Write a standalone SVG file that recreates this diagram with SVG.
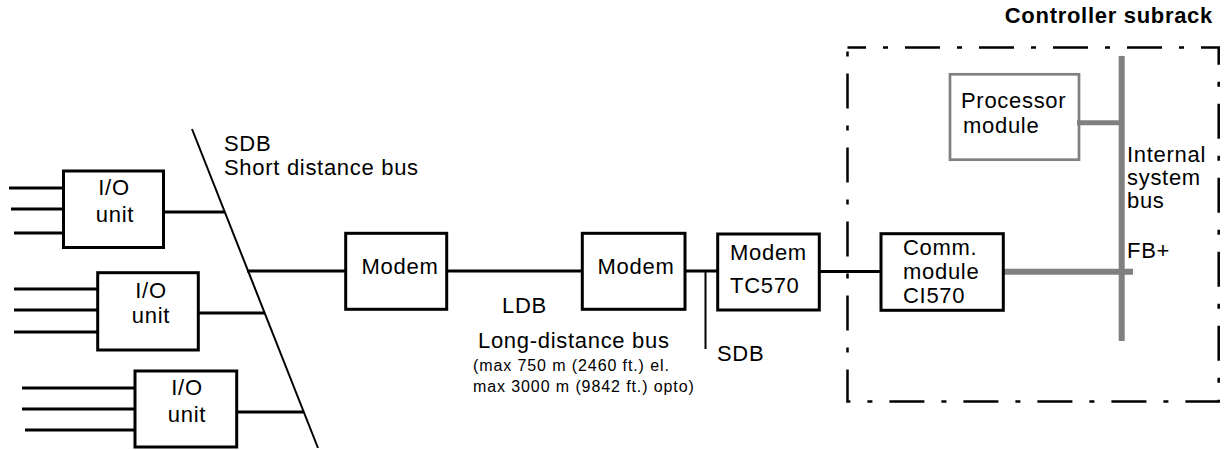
<svg xmlns="http://www.w3.org/2000/svg" width="1225" height="450" viewBox="0 0 1225 450">
<style>
text{font-family:"Liberation Sans",Arial,Helvetica,sans-serif;font-size:22px;letter-spacing:0.7px;fill:#000}
.small{font-size:16px;letter-spacing:0.9px}
.bold{font-weight:bold}
.box{fill:#fff;stroke:#000;stroke-width:3}
.gbox{fill:#fff;stroke:#808080;stroke-width:2.7}
.ln{stroke:#000;stroke-width:3;fill:none}
.thin{stroke:#000;stroke-width:2;fill:none}
.gl{stroke:#808080;fill:none}
.c{text-anchor:middle}
</style>
<g id="subrack">
<path d="M847.5,47.5 H1218.7 V401.5 H847.5 Z" fill="none" stroke="#000" stroke-width="2.5" stroke-dasharray="35 17 5 17" stroke-dashoffset="16.5"/>
<text class="bold" x="1213" y="23" text-anchor="end">Controller subrack</text>
</g>
<g id="processor-module">
<rect class="gbox" x="950" y="74.3" width="129" height="85.4"/>
<text x="961" y="108">Processor</text>
<text x="963" y="133">module</text>
</g>
<g id="connectors">
<path class="ln" d="M9,188H64M11,209H64M14,233H64"/>
<path class="ln" d="M14,289H99M14,310H99M14,332H99"/>
<path class="ln" d="M22,388H136M22,409H136M25,430H136"/>
<path class="ln" d="M164,212H224.5M199,313H264.5M237,412H303.5"/>
<path class="thin" d="M192,129L318,448"/>
<path class="ln" d="M247,271H346M447,271H582M685,271H718M819,271.5H881"/>
<path class="thin" d="M705.5,271V349"/>
<path class="gl" stroke-width="6" d="M1121.7,56V341"/>
<path class="gl" stroke-width="5" d="M1077,122.7H1121.7"/>
<path class="gl" stroke-width="6" d="M1001,271.7H1133"/>
</g>
<g id="io1">
<rect class="box" x="63.5" y="171" width="100" height="76.5"/>
<text class="c" x="114" y="195">I/O</text>
<text class="c" x="115" y="222">unit</text>
</g>
<g id="io2">
<rect class="box" x="97.7" y="272.7" width="100.6" height="77.3"/>
<text class="c" x="151" y="298">I/O</text>
<text class="c" x="151" y="323">unit</text>
</g>
<g id="io3">
<rect class="box" x="135" y="371" width="101.7" height="76"/>
<text class="c" x="187" y="395">I/O</text>
<text class="c" x="187" y="422">unit</text>
</g>
<g id="sdb-label">
<text x="224" y="151">SDB</text>
<text x="224" y="175">Short distance bus</text>
</g>
<g id="modem1">
<rect class="box" x="345.7" y="233.3" width="101" height="76"/>
<text class="c" x="400" y="274">Modem</text>
</g>
<g id="modem2">
<rect class="box" x="582.3" y="233.3" width="102.7" height="76"/>
<text class="c" x="636" y="274">Modem</text>
</g>
<g id="ldb-label">
<text x="502" y="313">LDB</text>
<text x="478" y="348">Long-distance bus</text>
<text class="small" x="473" y="371">(max 750 m (2460 ft.) el.</text>
<text class="small" x="473" y="392">max 3000 m (9842 ft.) opto)</text>
</g>
<g id="sdb2-label">
<text x="717" y="361">SDB</text>
</g>
<g id="modem-tc570">
<rect class="box" x="717.7" y="234" width="101.6" height="76"/>
<text x="730" y="260">Modem</text>
<text x="730" y="293">TC570</text>
</g>
<g id="comm-module">
<rect class="box" x="881" y="233.7" width="122.3" height="76.6"/>
<text x="903" y="255">Comm.</text>
<text x="903" y="279">module</text>
<text x="903" y="303">CI570</text>
</g>
<g id="bus-label">
<text x="1127" y="162">Internal</text>
<text x="1127" y="185">system</text>
<text x="1127" y="208">bus</text>
<text x="1127" y="258">FB+</text>
</g>
</svg>
